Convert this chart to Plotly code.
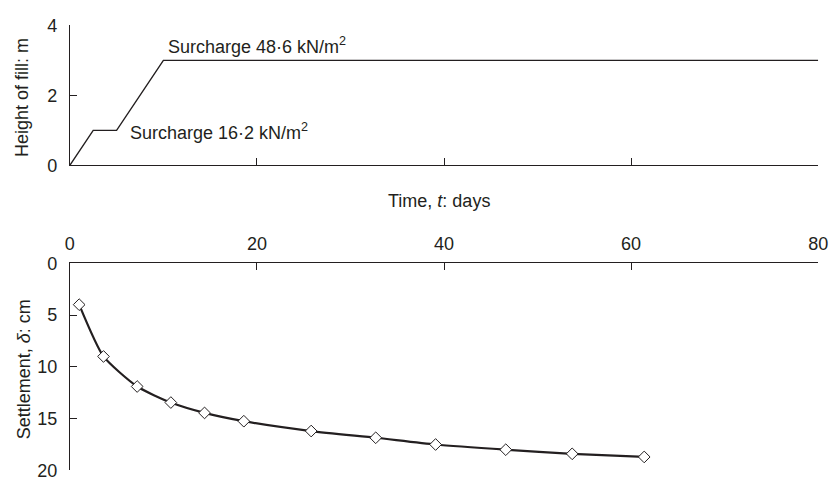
import plotly.graph_objects as go

# Fill history (top panel)
fill_time = [0, 2.5, 5, 10, 80]
fill_height = [0, 1, 1, 3, 3]

# Settlement observations (bottom panel)
settle_time = [1.0, 3.6, 7.2, 10.8, 14.4, 18.6, 25.8, 32.7, 39.1, 46.6, 53.7, 61.4]
settle_cm = [4.0, 9.0, 11.9, 13.45, 14.45, 15.25, 16.2, 16.85, 17.5, 18.0, 18.4, 18.7]

x_ticks = [0, 20, 40, 60, 80]
top_y_ticks = [0, 2, 4]
bot_y_ticks = [0, 5, 10, 15, 20]

W, H = 839, 490
ink = "#231f20"
FONT = "Liberation Sans, Arial, sans-serif"
FS = 18

def px_x(p):
    return p / W

def px_y(p):
    return 1 - p / H

fig = go.Figure()
fig.add_trace(go.Scatter(x=fill_time, y=fill_height, mode="lines",
                         line=dict(color=ink, width=1.4), xaxis="x", yaxis="y",
                         hoverinfo="skip"))
fig.add_trace(go.Scatter(x=settle_time, y=settle_cm, mode="lines+markers",
                         line=dict(color=ink, width=2.2, shape="spline", smoothing=0.6),
                         marker=dict(symbol="diamond", size=9, color="white",
                                     line=dict(color=ink, width=1)),
                         xaxis="x2", yaxis="y2", hoverinfo="skip"))

xdom = [px_x(66), px_x(828)]
axis_common = dict(showgrid=False, zeroline=False, showline=True, linecolor=ink,
                   linewidth=1, ticks="inside", ticklen=7, tickcolor=ink,
                   tickfont=dict(family=FONT, size=FS, color=ink))

fig.update_layout(
    width=W, height=H,
    margin=dict(l=0, r=0, t=0, b=0),
    paper_bgcolor="white", plot_bgcolor="white",
    showlegend=False,
    font=dict(family=FONT, size=FS, color=ink),
    xaxis=dict(domain=xdom, range=[0, 80], tickvals=x_ticks, showticklabels=False,
               anchor="y", **axis_common),
    yaxis=dict(domain=[px_y(162), px_y(16)], range=[0, 4], tickvals=top_y_ticks,
               anchor="x", ticklabelstandoff=8, **axis_common),
    xaxis2=dict(domain=xdom, range=[0, 80], tickvals=x_ticks, side="top",
                anchor="y2", ticklabelstandoff=5, **axis_common),
    yaxis2=dict(domain=[px_y(480), px_y(264)], range=[20, 0], tickvals=bot_y_ticks,
                anchor="x2", ticklabelstandoff=8, **axis_common),
)

ann = [
    dict(text="Surcharge 48·6 kN/m<sup>2</sup>", x=px_x(164), y=px_y(37),
         xanchor="left", yanchor="middle", textangle=0),
    dict(text="Surcharge 16·2 kN/m<sup>2</sup>", x=px_x(125), y=px_y(127),
         xanchor="left", yanchor="middle", textangle=0),
    dict(text="Time, <i>t</i>: days", x=px_x(442), y=px_y(199),
         xanchor="center", yanchor="middle", textangle=0),
    dict(text="Height of fill: m", x=px_x(18), y=px_y(91),
         xanchor="center", yanchor="middle", textangle=-90),
    dict(text="Settlement, <i>δ</i>: cm", x=px_x(19), y=px_y(375),
         xanchor="center", yanchor="middle", textangle=-90),
]
for a in ann:
    fig.add_annotation(xref="paper", yref="paper", showarrow=False,
                       font=dict(family=FONT, size=FS, color=ink), **a)

fig.write_html("out.html")
